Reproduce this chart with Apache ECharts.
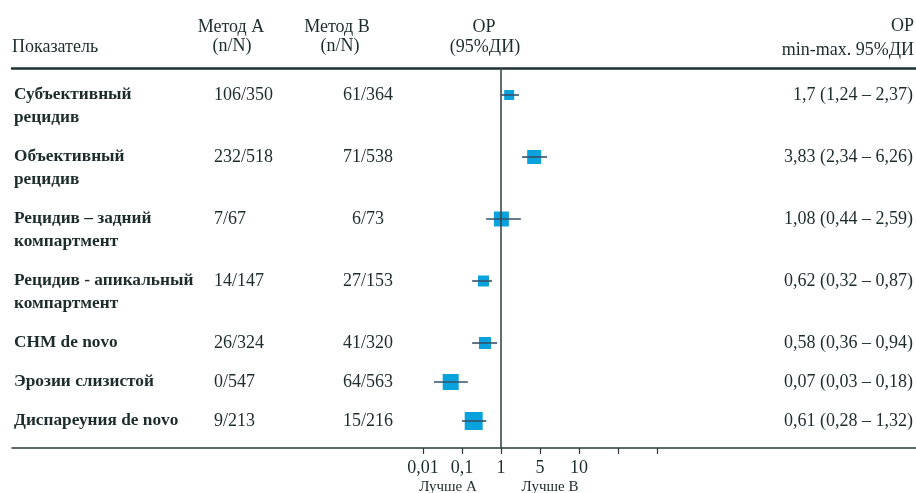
<!DOCTYPE html>
<html>
<head>
<meta charset="utf-8">
<script src="https://cdn.jsdelivr.net/npm/echarts@6/dist/echarts.min.js"></script>
<style>
html,body{margin:0;padding:0;background:#fff;}
#chart{width:916px;height:493px;}
</style>
</head>
<body>
<div id="chart"></div>
<script>
// ---- data ----
const categories = ['Субъективный\nрецидив', 'Объективный\nрецидив', 'Рецидив – задний\nкомпартмент',
  'Рецидив - апикальный\nкомпартмент', 'СНМ de novo', 'Эрозии слизистой', 'Диспареуния de novo'];
const methodA = ['106/350', '232/518', '7/67', '14/147', '26/324', '0/547', '9/213'];
const methodB = ['61/364', '71/538', '6/73', '27/153', '41/320', '64/563', '15/216'];
const orText = ['1,7 (1,24 – 2,37)', '3,83 (2,34 – 6,26)', '1,08 (0,44 – 2,59)', '0,62 (0,32 – 0,87)',
  '0,58 (0,36 – 0,94)', '0,07 (0,03 – 0,18)', '0,61 (0,28 – 1,32)'];
// positions of the plotted marks as read on the axis (units = tick steps; 0 = "0,01", 2 = "1")
const plotEst = [2.21, 2.85, 2.01, 1.55, 1.59, 0.71, 1.30];
const plotLo  = [2.00, 2.54, 1.62, 1.26, 1.26, 0.28, 1.00];
const plotHi  = [2.46, 3.18, 2.51, 1.77, 1.90, 1.15, 1.62];
const weights = [10, 14, 15, 11, 12, 16, 18];
const tickValues = [0, 1, 2, 3, 4, 5, 6];
const tickLabels = ['0,01', '0,1', '1', '5', '10', '', ''];
const refValue = 2; // OR = 1

// ---- layout ----
const W = 916, H = 493;
const gridLeft = 12, gridTop = 68, gridBottomY = 448;
const x0px = 423, stepPx = 39;
const xMin = -(x0px - gridLeft) / stepPx;
const xMax = xMin + (W - gridLeft) / stepPx;
const gridH = gridBottomY - gridTop;

const rowY = [];
let yAcc = 27;
categories.forEach((c, i) => {
  rowY.push(yAcc);
  yAcc += c.indexOf('\n') >= 0 ? 62 : 39;
});

const FONT = 'Liberation Serif';
const TXT = '#1c2b2b';
const FS = 18;

const graphic = [];
function addText(x, y, text, align, opts) {
  graphic.push({
    type: 'text', x: x, y: y,
    style: Object.assign({
      text: text, fill: TXT, font: (opts && opts.bold ? 'bold ' : '') + FS + 'px "' + FONT + '"',
      align: align, verticalAlign: 'middle', lineHeight: 23
    }, opts && opts.style || {})
  });
}
// header
addText(12, 47, 'Показатель', 'left');
addText(231, 27, 'Метод А', 'center');
addText(232, 46, '(n/N)', 'center');
addText(337, 27, 'Метод В', 'center');
addText(340, 46, '(n/N)', 'center');
addText(484, 27, 'ОР', 'center');
addText(485, 47, '(95%ДИ)', 'center');
addText(914, 26, 'ОР', 'right');
addText(914, 50, 'min-max. 95%ДИ', 'right');
// rows
categories.forEach((c, i) => {
  const y = gridTop + rowY[i];
  graphic.push({
    type: 'text', x: 14, y: y - 11.5,
    style: { text: c, fill: TXT, font: 'bold 17.3px "' + FONT + '"', align: 'left', verticalAlign: 'top', lineHeight: 23 }
  });
  addText(214, y, methodA[i], 'left');
  addText(368, y, methodB[i], 'center');
  addText(913, y, orText[i], 'right');
});
// bottom captions
graphic.push({ type: 'text', x: 448, y: 487, style: { text: 'Лучше А', fill: TXT, font: '15px "' + FONT + '"', align: 'center', verticalAlign: 'middle' } });
graphic.push({ type: 'text', x: 550, y: 487, style: { text: 'Лучше В', fill: TXT, font: '15px "' + FONT + '"', align: 'center', verticalAlign: 'middle' } });

const seriesData = plotEst.map((v, i) => [v, plotLo[i], plotHi[i], rowY[i], weights[i]]);

const chart = echarts.init(document.getElementById('chart'), null, { renderer: 'canvas' });
chart.setOption({
  animation: false,
  backgroundColor: '#fff',
  grid: { left: gridLeft, right: 0, top: gridTop, bottom: H - gridBottomY, containLabel: false },
  xAxis: [{
    type: 'value', min: xMin, max: xMax, position: 'bottom',
    axisLine: { show: true, onZero: false, lineStyle: { color: '#2a3838', width: 1.5 } },
    axisTick: { show: true, customValues: tickValues, length: 6, lineStyle: { color: '#2a3838', width: 1.2 } },
    axisLabel: {
      show: true, customValues: tickValues, margin: 11,
      formatter: v => tickLabels[Math.round(v)] || '',
      color: TXT, fontFamily: FONT, fontSize: FS
    },
    splitLine: { show: false }
  }, {
    type: 'value', min: xMin, max: xMax, position: 'top',
    axisLine: { show: true, onZero: false, lineStyle: { color: '#1f3030', width: 2.5 } },
    axisTick: { show: false }, axisLabel: { show: false }, splitLine: { show: false }
  }],
  yAxis: {
    type: 'value', min: 0, max: gridH, inverse: true, show: false
  },
  series: [{
    type: 'custom',
    xAxisIndex: 0,
    encode: { x: [0, 1, 2], y: 3 },
    data: seriesData,
    renderItem: function (params, api) {
      const c = api.coord([api.value(0), api.value(3)]);
      const lo = api.coord([api.value(1), api.value(3)]);
      const hi = api.coord([api.value(2), api.value(3)]);
      const s = api.value(4);
      return {
        type: 'group',
        children: [
          { type: 'rect', shape: { x: c[0] - s / 2, y: c[1] - s / 2, width: s, height: s }, style: { fill: '#0aa2dd' } },
          { type: 'line', shape: { x1: lo[0], y1: lo[1], x2: hi[0], y2: hi[1] }, style: { stroke: '#35506a', lineWidth: 1.6 } }
        ]
      };
    },
    markLine: {
      silent: true, symbol: 'none', label: { show: false },
      lineStyle: { color: '#3a4848', width: 1.6, type: 'solid' },
      data: [{ xAxis: refValue }]
    },
    z: 3
  }],
  graphic: graphic
});
</script>
</body>
</html>
